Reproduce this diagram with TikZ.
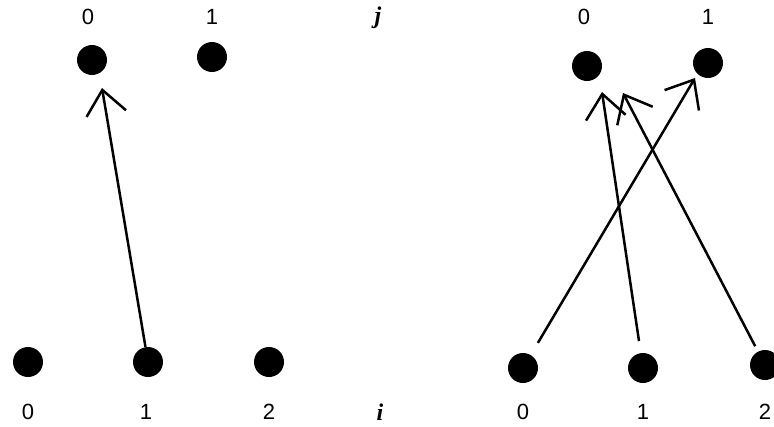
\documentclass[tikz,border=0pt]{standalone}
\usepackage{fontspec}
\setmainfont{Liberation Sans}
\newfontfamily\serifbi{Liberation Serif}
\usetikzlibrary{arrows.meta}
\begin{document}
\begin{tikzpicture}[x=1pt,y=-1pt,
  dot/.style={circle,fill=black,inner sep=0pt,minimum size=30pt},
  lab/.style={inner sep=0pt,font=\fontsize{22}{22}\selectfont},
  var/.style={inner sep=0pt,font=\serifbi\fontsize{24}{24}\selectfont\bfseries\itshape},
  arr/.style={line width=2.5pt,-{Straight Barb[length=24pt,width=40pt,line width=2.5pt]}}]
\useasboundingbox (0,0) rectangle (774,426);
\clip (0,0) rectangle (774,426);
% left panel
\node[dot] (Lj0) at (92,60) {};
\node[dot] (Lj1) at (212,57) {};
\node[dot] (Li0) at (28,362) {};
\node[dot] (Li1) at (148,362) {};
\node[dot] (Li2) at (269,362) {};
\node[lab] (Llj0) at (88,17) {0};
\node[lab] (Llj1) at (212,17) {1};
\node[lab] (Lli0) at (28,412) {0};
\node[lab] (Lli1) at (146,412) {1};
\node[lab] (Lli2) at (269,412) {2};
\node[var] (jlab) at (378,18) {j};
\node[var] (ilab) at (380,412) {i};
\coordinate (tL) at (102,88);
\draw[arr] (Li1) -- (tL);
% right panel
\node[dot] (Rj0) at (587,66) {};
\node[dot] (Rj1) at (708,63) {};
\node[dot] (Ri0) at (523,368) {};
\node[dot] (Ri1) at (643,368) {};
\node[dot] (Ri2) at (765,365) {};
\node[lab] (Rlj0) at (584,17) {0};
\node[lab] (Rlj1) at (708,17) {1};
\node[lab] (Rli0) at (523,412) {0};
\node[lab] (Rli1) at (643,412) {1};
\node[lab] (Rli2) at (765,412) {2};
\coordinate (tA) at (602,92);
\coordinate (tB) at (623,93);
\coordinate (tC) at (695,78);
\draw[arr,shorten <=12pt] (Ri1) -- (tA);
\draw[arr,shorten <=6pt] (Ri2) -- (tB);
\draw[arr,shorten <=14pt] (Ri0) -- (tC);
\end{tikzpicture}
\end{document}
